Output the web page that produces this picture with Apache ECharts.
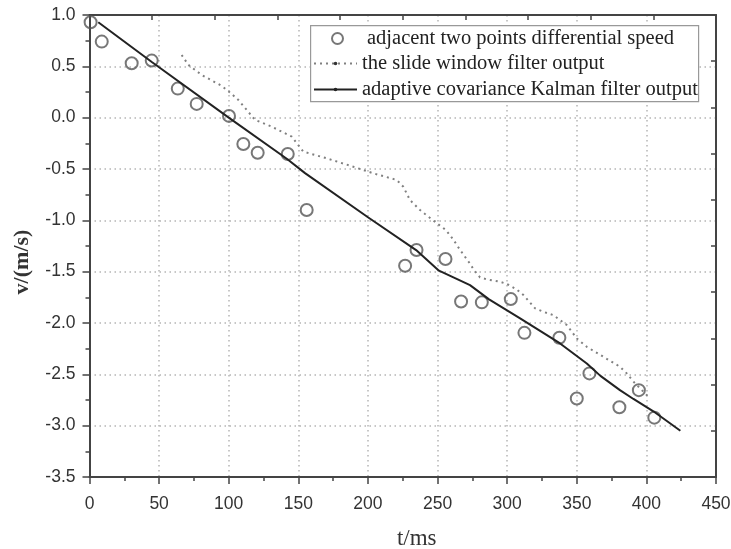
<!DOCTYPE html>
<html>
<head>
<meta charset="utf-8">
<script src="https://cdn.jsdelivr.net/npm/echarts@6/dist/echarts.min.js"></script>
<style>html,body{margin:0;padding:0;background:#fff}#c{width:731px;height:549px}</style>
</head>
<body>
<div id="c"></div>
<script>
// Data
var seriesNames = ['adjacent two points differential speed', 'the slide window filter output', 'adaptive covariance Kalman filter output'];
var diffT = [0.8, 8.8, 30.3, 44.7, 63.4, 77.0, 100.2, 110.5, 120.8, 142.4, 156.0, 226.7, 234.9, 255.7, 266.9, 281.8, 302.6, 312.4, 337.5, 350.0, 359.1, 380.6, 394.6, 405.7];
var diffV = [0.93, 0.741, 0.530, 0.556, 0.283, 0.134, 0.017, -0.256, -0.341, -0.354, -0.899, -1.443, -1.289, -1.377, -1.791, -1.799, -1.767, -2.096, -2.144, -2.735, -2.491, -2.820, -2.654, -2.922];
var slideT = [66.2, 71.0, 80.6, 95.0, 100.2, 106.9, 118.9, 130.9, 145.3, 153.6, 170.4, 189.5, 203.9, 220.7, 225.4, 230.2, 237.4, 241.0, 245.8, 250.6, 255.4, 258.9, 262.6, 266.2, 272.8, 276.2, 280.5, 285.3, 294.9, 300.1, 306.9, 311.7, 320.1, 326.0, 333.2, 342.8, 350.0, 357.2, 369.1, 381.1, 385.9, 390.7, 400.3, 402.0];
var slideV = [0.611, 0.514, 0.416, 0.309, 0.253, 0.173, -0.022, -0.088, -0.185, -0.331, -0.396, -0.478, -0.542, -0.607, -0.673, -0.802, -0.900, -0.939, -0.990, -1.039, -1.088, -1.143, -1.214, -1.289, -1.413, -1.484, -1.556, -1.575, -1.598, -1.621, -1.673, -1.728, -1.858, -1.891, -1.923, -2.020, -2.150, -2.232, -2.329, -2.427, -2.491, -2.571, -2.703, -2.72];
var kalT = [6.3, 45, 100, 141.7, 154.8, 200, 234.6, 251, 261.4, 273.3, 287, 309.3, 338, 357.2, 367, 381, 390.7, 405, 424.4];
var kalV = [0.93, 0.54, 0.0, -0.40, -0.54, -0.97, -1.29, -1.49, -1.556, -1.631, -1.77, -1.955, -2.199, -2.394, -2.515, -2.654, -2.74, -2.86, -3.05];
var xTickMin = 0, xTickMax = 450, xTickStep = 50;
var yTickMin = -3.5, yTickMax = 1.0, yTickStep = 0.5;

function zip(a, b) { return a.map(function (v, i) { return [v, b[i]]; }); }

var axisColor = '#444';
var legendText = { fontFamily: 'Liberation Serif', fontSize: 20.5, color: '#222', lineHeight: 20 };
var chart = echarts.init(document.getElementById('c'));
chart.setOption({
  animation: false,
  backgroundColor: '#fff',
  grid: { left: 89.5, right: 15, top: 15, bottom: 72, containLabel: false, outerBoundsMode: 'none' },
  graphic: [{
    type: 'rect', left: 310, top: 25, z: 90,
    shape: { width: 388, height: 76 },
    style: { fill: '#fff', stroke: '#999', lineWidth: 1.2 }
  }],
  legend: [{
    orient: 'vertical', left: 331, top: 28, padding: 0, z: 100,
    itemWidth: 49, itemHeight: 11, itemGap: 5,
    textStyle: legendText,
    itemStyle: { color: 'rgba(0,0,0,0)', borderColor: '#555', borderWidth: 2 },
    data: [{ name: seriesNames[0], icon: 'circle' }]
  }, {
    orient: 'vertical', left: 313, top: 53, padding: 0, z: 100,
    itemWidth: 43, itemHeight: 4.5, itemGap: 5,
    textStyle: legendText,
    data: [seriesNames[1], seriesNames[2]]
  }],
  xAxis: [{
    type: 'value', min: xTickMin, max: xTickMax, interval: xTickStep,
    name: 't/ms', nameLocation: 'middle', nameGap: 50,
    nameTextStyle: { fontFamily: 'Liberation Serif', fontSize: 23, color: '#333', padding: [0, 0, 0, 28] },
    axisLine: { onZero: false, lineStyle: { color: axisColor, width: 2 } },
    axisTick: { show: true, length: 7, lineStyle: { color: axisColor, width: 1.5 } },
    minorTick: { show: true, splitNumber: 2, length: 4, lineStyle: { color: axisColor, width: 1.5 } },
    axisLabel: { margin: 18, fontFamily: 'Liberation Sans', fontSize: 17.5, color: '#333' },
    splitLine: { show: true, lineStyle: { color: '#b5b5b5', width: 1.5, type: [1.5, 3.5] } }
  }, {
    type: 'value', position: 'top', min: 0, max: 10, interval: 1,
    axisLine: { onZero: false, lineStyle: { color: axisColor, width: 2 } },
    axisTick: { show: true, inside: true, length: 5, lineStyle: { color: axisColor, width: 1.5 } },
    axisLabel: { show: false }, splitLine: { show: false }
  }],
  yAxis: [{
    type: 'value', min: yTickMin, max: yTickMax, interval: yTickStep,
    name: 'v/(m/s)', nameLocation: 'middle', nameGap: 56, nameRotate: 90,
    nameTextStyle: { fontFamily: 'Liberation Serif', fontSize: 22, fontWeight: 'bold', color: '#333', padding: [0, 32, 0, 0] },
    axisLine: { onZero: false, lineStyle: { color: axisColor, width: 2 } },
    axisTick: { show: true, length: 7, lineStyle: { color: axisColor, width: 1.5 } },
    minorTick: { show: true, splitNumber: 2, length: 4, lineStyle: { color: axisColor, width: 1.5 } },
    axisLabel: { margin: 14, fontFamily: 'Liberation Sans', fontSize: 17.5, color: '#333',
      formatter: function (v) { return v.toFixed(1); } },
    splitLine: { show: true, lineStyle: { color: '#b5b5b5', width: 1.5, type: [1.5, 3.5] } }
  }, {
    type: 'value', position: 'right', min: 0, max: 10, interval: 1,
    axisLine: { onZero: false, lineStyle: { color: axisColor, width: 2 } },
    axisTick: { show: true, inside: true, length: 5, lineStyle: { color: axisColor, width: 1.5 } },
    axisLabel: { show: false }, splitLine: { show: false }
  }],
  series: [{
    name: seriesNames[0], type: 'scatter', xAxisIndex: 0, yAxisIndex: 0,
    data: zip(diffT, diffV), symbol: 'circle', symbolSize: 12,
    itemStyle: { color: 'rgba(0,0,0,0)', borderColor: '#555', borderWidth: 2 },
    clip: true, z: 3
  }, {
    name: seriesNames[1], type: 'line', xAxisIndex: 0, yAxisIndex: 0,
    data: zip(slideT, slideV), showSymbol: false, symbol: 'circle', symbolSize: 4,
    itemStyle: { color: '#333' },
    lineStyle: { color: '#808080', width: 2, type: [2, 4] }, z: 4
  }, {
    name: seriesNames[2], type: 'line', xAxisIndex: 0, yAxisIndex: 0,
    data: zip(kalT, kalV), showSymbol: false, symbol: 'circle', symbolSize: 4,
    itemStyle: { color: '#222' },
    lineStyle: { color: '#222', width: 2 }, z: 5
  }]
});
</script>
</body>
</html>
